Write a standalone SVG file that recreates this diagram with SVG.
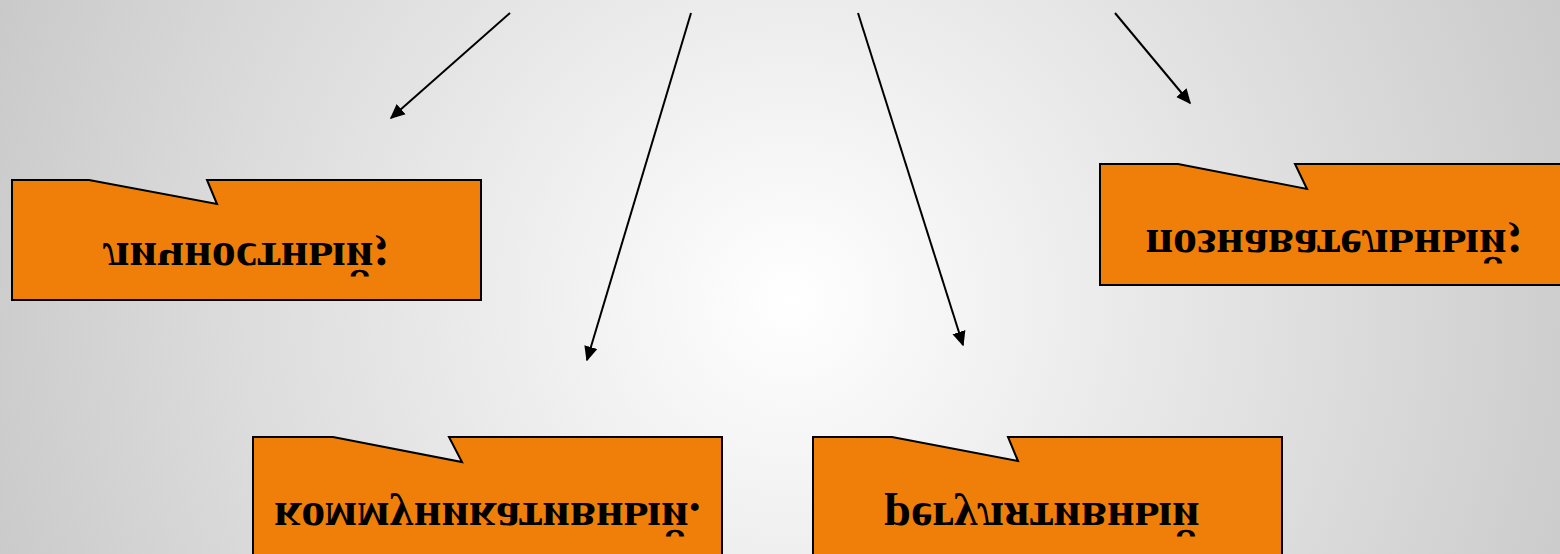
<svg xmlns="http://www.w3.org/2000/svg" width="1560" height="554" viewBox="0 0 1560 554">
<style>
.box{fill:#F07F0A;stroke:#000;stroke-width:2}
.lbl{font-family:"Liberation Serif","Times New Roman",serif;font-weight:bold;font-size:48px;fill:#000;text-anchor:middle}
.conn line{stroke:#000;stroke-width:2;marker-end:url(#ah)}
</style>
<defs>
<radialGradient id="bg" gradientUnits="userSpaceOnUse" cx="790" cy="300" r="900">
<stop offset="0" stop-color="#ffffff"/>
<stop offset="1" stop-color="#c6c6c6"/>
</radialGradient>
<marker id="ah" viewBox="0 0 10 10" refX="9" refY="5" markerWidth="7.5" markerHeight="7.5" markerUnits="strokeWidth" orient="auto">
<path d="M0,0.5 L10,5 L0,9.5 Z" fill="#000"/>
</marker>
</defs>
<rect x="0" y="0" width="1560" height="554" fill="url(#bg)"/>
<g class="conn" id="connectors">
<line x1="510" y1="13" x2="391" y2="118"/>
<line x1="691" y1="13" x2="587" y2="360"/>
<line x1="858" y1="13" x2="963" y2="345"/>
<line x1="1115" y1="13" x2="1190" y2="103"/>
</g>
<g id="node-lichnostny">
<path class="box" d="M12,180 L89,180 L217,204 L207,180 L481,180 L481,300 L12,300 Z"/>
<text class="lbl" transform="translate(246,243) scale(1,-1)">личностный;</text>
</g>
<g id="node-poznavatelny">
<path class="box" d="M1100,164 L1178,164 L1307,189 L1295,164 L1569,164 L1569,285 L1100,285 Z"/>
<text class="lbl" transform="translate(1334,230) scale(1,-1)">познавательный;</text>
</g>
<g id="node-kommunikativny">
<path class="box" d="M253,437 L333,437 L462,462 L449,437 L722,437 L722,557 L253,557 Z"/>
<text class="lbl" transform="translate(487.5,503) scale(1,-1)">коммуникативный.</text>
</g>
<g id="node-regulyativny">
<path class="box" d="M813,437 L892,437 L1018,461 L1008,437 L1282,437 L1282,557 L813,557 Z"/>
<text class="lbl" transform="translate(1042,503) scale(1,-1)">регулятивный</text>
</g>
</svg>
